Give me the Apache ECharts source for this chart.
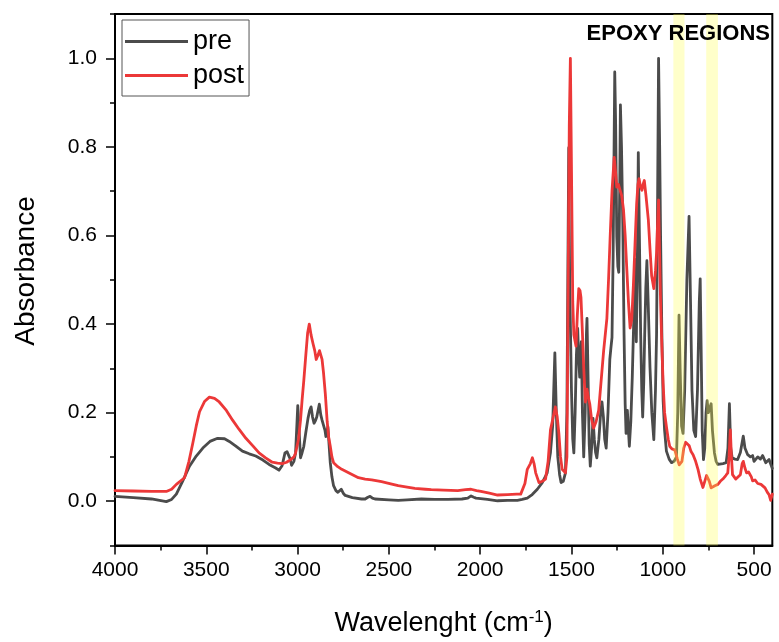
<!DOCTYPE html>
<html>
<head>
<meta charset="utf-8">
<script src="https://cdn.jsdelivr.net/npm/echarts@6/dist/echarts.min.js"></script>
<style>
  html, body { margin: 0; padding: 0; background: #fff; }
  #chart { width: 779px; height: 642px; }
</style>
</head>
<body>
<div id="chart"></div>
<script>
// FTIR spectra, pre / post
var preX = [4000, 3900, 3800, 3719, 3690, 3664, 3630, 3592, 3555, 3519, 3480, 3438, 3400, 3374, 3340, 3302, 3265, 3229, 3190, 3156,
  3120, 3102, 3085, 3069, 3058, 3051, 3040, 3033, 3020, 3011, 3003, 2999, 2993, 2984, 2975, 2966, 2955, 2943, 2934, 2926,
  2918, 2910, 2902, 2895, 2888, 2881, 2873, 2866, 2856, 2850, 2845, 2839, 2834, 2828, 2821, 2812, 2803, 2790, 2779, 2770,
  2761, 2750, 2739, 2700, 2650, 2630, 2615, 2603, 2590, 2576, 2500, 2449, 2400, 2322, 2250, 2177, 2100, 2068, 2050, 2035,
  2023, 1960, 1905, 1850, 1796, 1770, 1742, 1715, 1687, 1660, 1633, 1615, 1603, 1591, 1583, 1575, 1565, 1557, 1545, 1533,
  1525, 1520, 1515, 1510, 1500, 1493, 1487, 1480, 1473, 1466, 1460, 1455, 1450, 1446, 1440, 1433, 1425, 1418, 1415, 1410,
  1403, 1397, 1390, 1382, 1375, 1368, 1361, 1350, 1340, 1333, 1325, 1318, 1310, 1300, 1290, 1284, 1278, 1272, 1263, 1258,
  1252, 1246, 1241, 1236, 1232, 1226, 1219, 1212, 1206, 1201, 1194, 1188, 1183, 1175, 1167, 1161, 1150, 1145, 1140, 1134,
  1128, 1121, 1115, 1110, 1104, 1099, 1093, 1087, 1080, 1070, 1060, 1049, 1040, 1034, 1028, 1023, 1017, 1012, 1005, 998,
  990, 980, 965, 952, 938, 925, 918, 911, 905, 897, 889, 880, 868, 856, 848, 840, 830, 820, 810, 800,
  795, 790, 784, 777, 770, 763, 757, 750, 744, 739, 735, 728, 717, 708, 698, 670, 653, 643, 635, 628,
  620, 605, 590, 575, 559, 550, 535, 520, 508, 500, 480, 465, 453, 436, 418, 400];
var preY = [0.011, 0.008, 0.005, -0.001, 0.004, 0.016, 0.045, 0.079, 0.102, 0.12, 0.135, 0.142, 0.141, 0.135, 0.125, 0.113, 0.107, 0.102, 0.093, 0.083,
  0.075, 0.070, 0.08, 0.109, 0.112, 0.115, 0.095, 0.081, 0.09, 0.109, 0.18, 0.216, 0.17, 0.098, 0.11, 0.124, 0.155, 0.187, 0.205, 0.213,
  0.19, 0.176, 0.182, 0.19, 0.205, 0.219, 0.195, 0.183, 0.179, 0.16, 0.146, 0.158, 0.168, 0.13, 0.087, 0.055, 0.035, 0.024, 0.02, 0.024,
  0.027, 0.018, 0.013, 0.008, 0.005, 0.005, 0.009, 0.011, 0.007, 0.005, 0.003, 0.002, 0.003, 0.005, 0.004, 0.004, 0.005, 0.007, 0.012, 0.009,
  0.007, 0.004, 0.001, 0.002, 0.002, 0.004, 0.007, 0.015, 0.027, 0.042, 0.064, 0.11, 0.17, 0.335, 0.2, 0.1, 0.06, 0.042, 0.045, 0.064,
  0.2, 0.5, 0.798, 0.5, 0.25, 0.14, 0.109, 0.2, 0.33, 0.39, 0.32, 0.28, 0.33, 0.36, 0.2, 0.10, 0.2, 0.38, 0.413, 0.3,
  0.13, 0.079, 0.12, 0.187, 0.14, 0.11, 0.098, 0.14, 0.2, 0.224, 0.19, 0.14, 0.12, 0.2, 0.32, 0.346, 0.37, 0.55, 0.969, 0.85,
  0.598, 0.53, 0.517, 0.7, 0.895, 0.8, 0.628, 0.376, 0.22, 0.153, 0.205, 0.16, 0.124, 0.18, 0.28, 0.376, 0.546, 0.36, 0.5, 0.787,
  0.6, 0.376, 0.25, 0.19, 0.27, 0.376, 0.48, 0.543, 0.45, 0.302, 0.2, 0.139, 0.25, 0.376, 0.7, 1.0, 0.8, 0.598, 0.38, 0.227,
  0.16, 0.113, 0.095, 0.087, 0.09, 0.10, 0.2, 0.42, 0.3, 0.17, 0.153, 0.25, 0.5, 0.643, 0.45, 0.25, 0.16, 0.146, 0.25, 0.45,
  0.502, 0.35, 0.16, 0.094, 0.12, 0.2, 0.227, 0.2, 0.198, 0.215, 0.22, 0.16, 0.109, 0.09, 0.083, 0.085, 0.087, 0.12, 0.22, 0.12,
  0.098, 0.095, 0.094, 0.11, 0.147, 0.12, 0.105, 0.1, 0.103, 0.09, 0.1, 0.095, 0.103, 0.087, 0.094, 0.074];

var postX = [4000, 3900, 3800, 3719, 3690, 3664, 3619, 3595, 3574, 3555, 3537, 3510, 3483, 3455, 3429, 3390, 3356, 3320, 3283, 3245,
  3211, 3175, 3139, 3110, 3084, 3060, 3038, 3020, 3011, 2995, 2984, 2975, 2966, 2955, 2945, 2936, 2926, 2915, 2906, 2898,
  2888, 2880, 2874, 2866, 2858, 2848, 2838, 2830, 2821, 2812, 2803, 2780, 2758, 2710, 2667, 2630, 2594, 2540, 2490, 2449,
  2400, 2358, 2300, 2268, 2200, 2123, 2080, 2050, 2020, 1996, 1950, 1905, 1850, 1800, 1778, 1755, 1742, 1725, 1714, 1705,
  1696, 1678, 1660, 1642, 1628, 1615, 1600, 1588, 1578, 1569, 1560, 1551, 1533, 1525, 1518, 1512, 1506, 1500, 1493, 1487,
  1475, 1468, 1460, 1453, 1448, 1440, 1433, 1424, 1415, 1408, 1400, 1390, 1379, 1365, 1351, 1340, 1324, 1306, 1297, 1288,
  1278, 1266, 1258, 1252, 1243, 1234, 1225, 1215, 1206, 1197, 1188, 1179, 1170, 1161, 1152, 1143, 1136, 1130, 1122, 1114,
  1108, 1101, 1092, 1079, 1070, 1061, 1049, 1040, 1034, 1028, 1023, 1018, 1012, 1005, 998, 990, 980, 970, 962, 950,
  943, 934, 920, 910, 903, 895, 885, 875, 867, 855, 845, 834, 820, 807, 795, 780, 770, 760, 753, 745,
  735, 729, 715, 698, 685, 671, 655, 644, 637, 630, 624, 618, 613, 600, 590, 575, 565, 559, 550, 541,
  530, 523, 515, 508, 495, 480, 472, 462, 453, 440, 427, 418, 409, 400];
var postY = [0.024, 0.023, 0.022, 0.022, 0.027, 0.038, 0.053, 0.09, 0.131, 0.17, 0.202, 0.225, 0.235, 0.232, 0.224, 0.205, 0.183, 0.162, 0.142, 0.125,
  0.109, 0.098, 0.088, 0.086, 0.085, 0.088, 0.094, 0.1, 0.109, 0.14, 0.183, 0.23, 0.272, 0.33, 0.38, 0.40, 0.375, 0.355, 0.34, 0.32,
  0.33, 0.34, 0.342, 0.32, 0.29, 0.242, 0.18, 0.145, 0.124, 0.1, 0.087, 0.078, 0.072, 0.062, 0.053, 0.05, 0.048, 0.044, 0.039, 0.035,
  0.032, 0.029, 0.027, 0.026, 0.025, 0.024, 0.026, 0.027, 0.024, 0.022, 0.018, 0.014, 0.015, 0.016, 0.016, 0.04, 0.072, 0.085, 0.098, 0.085,
  0.064, 0.042, 0.045, 0.05, 0.09, 0.161, 0.19, 0.213, 0.19, 0.153, 0.1, 0.072, 0.064, 0.1, 0.5, 0.85, 1.0, 0.75, 0.45, 0.376,
  0.35, 0.42, 0.48, 0.475, 0.46, 0.38, 0.302, 0.224, 0.253, 0.235, 0.22, 0.185, 0.165, 0.18, 0.205, 0.26, 0.339, 0.413, 0.5, 0.598,
  0.7, 0.776, 0.74, 0.709, 0.715, 0.717, 0.69, 0.658, 0.6, 0.524, 0.45, 0.391, 0.41, 0.487, 0.58, 0.672, 0.715, 0.728, 0.71, 0.702,
  0.715, 0.724, 0.69, 0.635, 0.57, 0.509, 0.48, 0.52, 0.561, 0.63, 0.68, 0.57, 0.45, 0.35, 0.265, 0.2, 0.168, 0.14, 0.124, 0.118,
  0.116, 0.116, 0.095, 0.082, 0.079, 0.09, 0.12, 0.133, 0.135, 0.125, 0.112, 0.105, 0.09, 0.072, 0.05, 0.031, 0.045, 0.058, 0.061, 0.045,
  0.03, 0.027, 0.035, 0.038, 0.045, 0.05, 0.058, 0.064, 0.1, 0.161, 0.1, 0.06, 0.057, 0.05, 0.046, 0.06, 0.085, 0.09, 0.075, 0.064,
  0.066, 0.064, 0.055, 0.046, 0.048, 0.04, 0.042, 0.038, 0.035, 0.03, 0.02, 0.015, 0.002, 0.016];

var seriesNames = ['pre', 'post'];
var epoxyBands = [[942, 881], [762, 698]];
var xMajorTicks = [500, 1000, 1500, 2000, 2500, 3000, 3500, 4000];
var xMinorTicks = [750, 1250, 1750, 2250, 2750, 3250, 3750];
var yMajorTicks = [0, 0.2, 0.4, 0.6, 0.8, 1.0];
var yMinorTicks = [-0.1, 0.1, 0.3, 0.5, 0.7, 0.9, 1.1];

var FONT = 'Liberation Sans, Arial, sans-serif';
var PRE_COLOR = '#4b4b4b';
var POST_COLOR = '#ec3838';

function pairs(xs, ys) {
  return xs.map(function (x, i) { return [x, ys[i]]; });
}

var chart = echarts.init(document.getElementById('chart'), null, { renderer: 'canvas' });

var option = {
  animation: false,
  backgroundColor: '#fff',
  grid: {
    left: 115, right: 2, top: 14, bottom: 88,
    show: true, borderColor: '#000', borderWidth: 2, backgroundColor: 'transparent'
  },
  legend: {
    orient: 'vertical',
    left: 122, top: 20,
    padding: [8, 5, 7, 3],
    itemGap: 7,
    icon: 'rect',
    itemWidth: 63, itemHeight: 3,
    borderColor: '#555', borderWidth: 1,
    textStyle: { fontFamily: FONT, fontSize: 27, color: '#000' },
    data: seriesNames
  },
  xAxis: [{
    type: 'value', inverse: true, min: 400, max: 4000, position: 'bottom',
    name: '{a|Wavelenght (cm}{s|-1}{a|)}',
    nameLocation: 'middle', nameGap: 63,
    nameTextStyle: {
      rich: {
        a: { fontFamily: FONT, fontSize: 27, color: '#000', lineHeight: 30 },
        s: { fontFamily: FONT, fontSize: 17, color: '#000', verticalAlign: 'top', lineHeight: 16 }
      }
    },
    axisLine: { show: true, onZero: false, lineStyle: { color: '#000', width: 2 } },
    axisTick: { show: true, inside: false, length: 9, customValues: xMajorTicks, lineStyle: { color: '#000', width: 1.5 } },
    axisLabel: {
      customValues: xMajorTicks, fontFamily: FONT, fontSize: 21, color: '#000', margin: 14,
      formatter: function (v) { return String(v); }
    },
    splitLine: { show: false }
  }, {
    type: 'value', inverse: true, min: 400, max: 4000, position: 'bottom',
    axisLine: { show: false, onZero: false },
    axisTick: { show: true, inside: false, length: 5, customValues: xMinorTicks, lineStyle: { color: '#000', width: 1.5 } },
    axisLabel: { show: false },
    splitLine: { show: false }
  }],
  yAxis: [{
    type: 'value', min: -0.1, max: 1.1, position: 'left',
    axisLine: { show: true, onZero: false, lineStyle: { color: '#000', width: 2 } },
    axisTick: { show: true, inside: false, length: 9, customValues: yMajorTicks, lineStyle: { color: '#000', width: 1.5 } },
    axisLabel: {
      customValues: yMajorTicks, fontFamily: FONT, fontSize: 21, color: '#000', margin: 18,
      formatter: function (v) { return v.toFixed(1); }
    },
    splitLine: { show: false }
  }, {
    type: 'value', min: -0.1, max: 1.1, position: 'left',
    axisLine: { show: false, onZero: false },
    axisTick: { show: true, inside: false, length: 5, customValues: yMinorTicks, lineStyle: { color: '#000', width: 1.5 } },
    axisLabel: { show: false },
    splitLine: { show: false }
  }],
  graphic: [{
    type: 'text', right: 9, top: 23, z: 20,
    style: { text: 'EPOXY REGIONS', fontFamily: FONT, fontSize: 22, fontWeight: 'bold', fill: '#000' }
  }, {
    // y axis title, sits a little above the plot centre as in the original
    type: 'text', x: 26, y: 271, rotation: Math.PI / 2, z: 20,
    style: {
      text: 'Absorbance', fontFamily: FONT, fontSize: 28, fill: '#000',
      align: 'center', verticalAlign: 'middle'
    }
  }],
  series: [{
    name: seriesNames[0], type: 'line', showSymbol: false, symbol: 'none',
    data: pairs(preX, preY),
    lineStyle: { color: PRE_COLOR, width: 2.8, join: 'round', cap: 'round' },
    itemStyle: { color: PRE_COLOR },
    z: 2
  }, {
    name: seriesNames[1], type: 'line', showSymbol: false, symbol: 'none',
    data: pairs(postX, postY),
    lineStyle: { color: POST_COLOR, width: 2.8, join: 'round', cap: 'round' },
    itemStyle: { color: POST_COLOR },
    z: 3
  }, {
    name: 'bands', type: 'line', data: [], z: 6,
    markArea: {
      silent: true, z: 6,
      itemStyle: { color: 'rgba(255,255,80,0.3)' },
      data: epoxyBands.map(function (b) { return [{ xAxis: b[0] }, { xAxis: b[1] }]; })
    }
  }]
};

chart.setOption(option);

window.addEventListener('resize', function () {
  chart.resize();
});
</script>
</body>
</html>
